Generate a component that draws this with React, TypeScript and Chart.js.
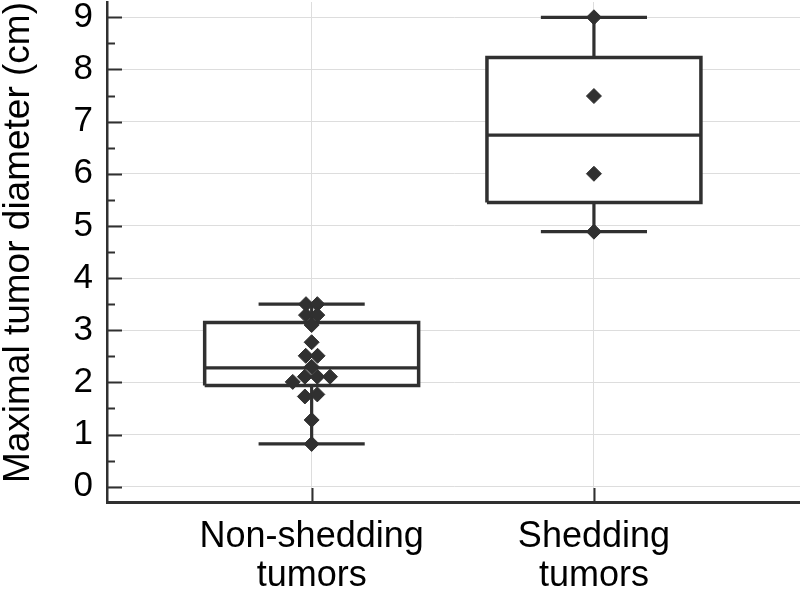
import React, { useEffect, useRef } from 'react';
import { Chart, registerables } from 'chart.js';

Chart.register(...registerables);

// ---- data ----
const groupLabels = [['Non-shedding', 'tumors'], ['Shedding', 'tumors']];
const groupPos = [0, 1];
const whiskerLow = [0.82, 4.89];
const q1 = [1.94, 5.45];
const median = [2.28, 6.74];
const q3 = [3.15, 8.23];
const whiskerHigh = [3.5, 9.0];

const nonSheddingY = [3.5, 3.5, 3.29, 3.29, 3.1, 2.77, 2.51, 2.51, 2.3, 2.11, 2.11, 2.11, 2.01, 1.77, 1.73, 1.28, 0.82];
const nonSheddingJitter = [-0.02, 0.02, -0.02, 0.02, 0, 0, -0.021, 0.021, 0, -0.024, 0.02, 0.065, -0.067, 0.02, -0.024, 0, 0];
const sheddingY = [9.0, 7.49, 6.0, 4.89];
const sheddingJitter = [0, 0, 0, 0];
const yTicks = [0, 1, 2, 3, 4, 5, 6, 7, 8, 9];
const yMinorTicks = [0.5, 1.5, 2.5, 3.5, 4.5, 5.5, 6.5, 7.5, 8.5];

// ---- style ----
const FONT = "'Liberation Sans', Arial, sans-serif";
const DARK = '#303030';
const BOX_HALF = 0.379;
const CAP_HALF = 0.188;

function boxDataset(i: number) {
  const c = groupPos[i];
  return {
    type: 'scatter' as const,
    data: [
      { x: c - BOX_HALF, y: q1[i] },
      { x: c + BOX_HALF, y: q1[i] },
      { x: c + BOX_HALF, y: q3[i] },
      { x: c - BOX_HALF, y: q3[i] },
      { x: c - BOX_HALF, y: q1[i] },
    ],
    showLine: true,
    fill: 'shape',
    backgroundColor: '#ffffff',
    borderColor: DARK,
    borderWidth: 3.5,
    pointRadius: 0,
    order: 3,
  };
}

function whiskerDataset(i: number) {
  const c = groupPos[i];
  const gap = { x: c, y: null };
  return {
    type: 'scatter' as const,
    data: [
      { x: c - BOX_HALF, y: median[i] }, { x: c + BOX_HALF, y: median[i] }, gap,
      { x: c, y: q3[i] }, { x: c, y: whiskerHigh[i] }, gap,
      { x: c - CAP_HALF, y: whiskerHigh[i] }, { x: c + CAP_HALF, y: whiskerHigh[i] }, gap,
      { x: c, y: q1[i] }, { x: c, y: whiskerLow[i] }, gap,
      { x: c - CAP_HALF, y: whiskerLow[i] }, { x: c + CAP_HALF, y: whiskerLow[i] },
    ],
    showLine: true,
    spanGaps: false,
    fill: false,
    borderColor: DARK,
    borderWidth: 3.2,
    pointRadius: 0,
    order: 2,
  };
}

function pointsDataset(ys: number[], jit: number[], i: number) {
  return {
    type: 'scatter' as const,
    data: ys.map((y, k) => ({ x: groupPos[i] + jit[k], y })),
    pointStyle: 'rectRot',
    pointRadius: 7.5,
    backgroundColor: DARK,
    borderColor: DARK,
    borderWidth: 1,
    showLine: false,
    order: 0,
  };
}

const innerTicks = {
  id: 'innerTicks',
  afterDraw(chart: any) {
    const { ctx, chartArea, scales } = chart;
    const x = scales.x;
    const y = scales.y;
    ctx.save();
    ctx.strokeStyle = DARK;
    ctx.lineWidth = 2;
    ctx.beginPath();
    yTicks.forEach((v) => {
      const py = Math.round(y.getPixelForValue(v)) + 0.5;
      ctx.moveTo(chartArea.left, py);
      ctx.lineTo(chartArea.left + 15, py);
    });
    yMinorTicks.forEach((v) => {
      const py = Math.round(y.getPixelForValue(v)) + 0.5;
      ctx.moveTo(chartArea.left, py);
      ctx.lineTo(chartArea.left + 8, py);
    });
    groupPos.forEach((v) => {
      const px = Math.round(x.getPixelForValue(v)) + 0.5;
      ctx.moveTo(px, chartArea.bottom);
      ctx.lineTo(px, chartArea.bottom - 14);
    });
    ctx.stroke();
    ctx.restore();
  },
};

export default function App() {
  const ref = useRef<HTMLCanvasElement | null>(null);

  useEffect(() => {
    if (!ref.current) return;
    const chart = new Chart(ref.current, {
      type: 'scatter',
      data: {
        datasets: [
          pointsDataset(nonSheddingY, nonSheddingJitter, 0),
          pointsDataset(sheddingY, sheddingJitter, 1),
          whiskerDataset(0),
          whiskerDataset(1),
          boxDataset(0),
          boxDataset(1),
        ] as any,
      },
      options: {
        animation: false,
        responsive: true,
        maintainAspectRatio: false,
        layout: { autoPadding: false, padding: { top: 2, left: 0, right: 0, bottom: 0 } },
        plugins: {
          legend: { display: false },
          tooltip: { enabled: false },
        },
        scales: {
          x: {
            type: 'linear',
            min: -0.725,
            max: 1.73,
            afterBuildTicks: (s: any) => {
              s.ticks = groupPos.map((v) => ({ value: v }));
            },
            afterFit: (s: any) => {
              s.height = 89;
              s.paddingLeft = 0;
              s.paddingRight = 0;
            },
            ticks: {
              callback: (_v: any, idx: number) => groupLabels[idx],
              font: { size: 36, family: FONT, lineHeight: 1.08 },
              color: '#000',
              padding: 16,
              maxRotation: 0,
              minRotation: 0,
              autoSkip: false,
            },
            grid: { color: '#dddddd', lineWidth: 1, drawTicks: false },
            border: { color: DARK, width: 3 },
          },
          y: {
            type: 'linear',
            min: -0.293,
            max: 9.293,
            afterBuildTicks: (s: any) => {
              s.ticks = yTicks.map((v) => ({ value: v }));
            },
            afterFit: (s: any) => {
              s.width = 107;
              s.paddingTop = 0;
              s.paddingBottom = 0;
            },
            ticks: {
              font: { size: 35, family: FONT },
              color: '#000',
              padding: 14,
            },
            title: {
              display: true,
              text: 'Maximal tumor diameter (cm)',
              font: { size: 37, family: FONT, lineHeight: 1.0 },
              color: '#000',
              align: 'end',
              padding: 0,
            },
            grid: { color: '#dddddd', lineWidth: 1, drawTicks: false },
            border: { color: DARK, width: 2.5 },
          },
        },
      },
      plugins: [innerTicks],
    });
    return () => chart.destroy();
  }, []);

  return (
    <div style={{ position: 'fixed', left: 0, top: 0, width: 800, height: 591, background: '#fff' }}>
      <canvas ref={ref} />
    </div>
  );
}
